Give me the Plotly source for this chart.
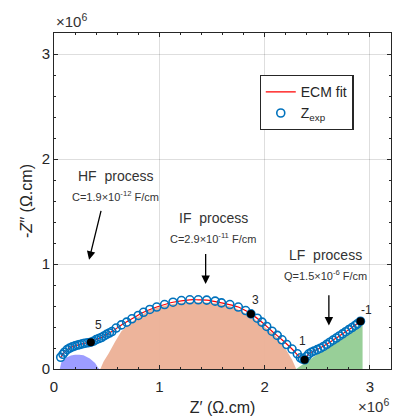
import plotly.graph_objects as go

# ---------------- data ----------------
exp_x = [0.064, 0.085, 0.10, 0.125, 0.15, 0.175, 0.20, 0.225, 0.245, 0.27, 0.29, 0.32, 0.35,
         0.375, 0.40, 0.425, 0.45, 0.475, 0.50, 0.525, 0.55, 0.59, 0.64, 0.69, 0.74, 0.80,
         0.85, 0.91, 0.975, 1.05, 1.13, 1.21, 1.29, 1.37, 1.45, 1.53, 1.59, 1.67, 1.75,
         1.82, 1.87, 1.93, 1.975, 2.02, 2.07, 2.12, 2.165, 2.21, 2.26, 2.31, 2.34, 2.36,
         2.38, 2.40, 2.42, 2.445, 2.47, 2.50, 2.53, 2.56, 2.59, 2.62, 2.65, 2.68, 2.71,
         2.74, 2.77, 2.80, 2.83, 2.86, 2.88, 2.91]
exp_y = [0.112, 0.14, 0.16, 0.185, 0.20, 0.212, 0.22, 0.228, 0.233, 0.24, 0.245, 0.25, 0.255,
         0.265, 0.28, 0.29, 0.30, 0.315, 0.33, 0.343, 0.357, 0.39, 0.42, 0.446, 0.478, 0.51,
         0.54, 0.567, 0.59, 0.614, 0.636, 0.652, 0.659, 0.659, 0.656, 0.646, 0.63, 0.614, 0.59,
         0.557, 0.525, 0.484, 0.446, 0.405, 0.36, 0.32, 0.278, 0.233, 0.19, 0.145, 0.107, 0.095,
         0.088, 0.12, 0.145, 0.16, 0.172, 0.185, 0.198, 0.215, 0.235, 0.255, 0.275, 0.295, 0.315,
         0.335, 0.355, 0.375, 0.395, 0.415, 0.43, 0.455]

fit_x = [0.064, 0.10, 0.15, 0.20, 0.25, 0.30, 0.35, 0.40, 0.45, 0.50, 0.55, 0.64, 0.74, 0.85,
         0.975, 1.13, 1.29, 1.37, 1.45, 1.59, 1.75, 1.87, 1.975, 2.07, 2.165, 2.26, 2.34,
         2.38, 2.42, 2.50, 2.60, 2.70, 2.80, 2.91]
fit_y = [0.112, 0.16, 0.20, 0.22, 0.234, 0.246, 0.255, 0.28, 0.30, 0.33, 0.357, 0.42, 0.478,
         0.54, 0.59, 0.636, 0.659, 0.659, 0.656, 0.63, 0.59, 0.525, 0.446, 0.36, 0.278, 0.19,
         0.107, 0.088, 0.145, 0.185, 0.242, 0.308, 0.375, 0.455]

# process areas (outlines)
hf_x = [0.055, 0.07, 0.12, 0.16, 0.20, 0.24, 0.28, 0.34, 0.39, 0.42, 0.43]
hf_y = [0.0, 0.065, 0.11, 0.128, 0.135, 0.135, 0.13, 0.10, 0.056, 0.01, 0.0]

if_x = [0.44, 0.47, 0.52, 0.58, 0.64, 0.72, 0.79, 0.91, 1.0, 1.1, 1.2, 1.3, 1.4, 1.5,
        1.6, 1.7, 1.8, 1.9, 2.0, 2.1, 2.2, 2.26, 2.30]
if_y = [0.0, 0.07, 0.15, 0.26, 0.36, 0.43, 0.49, 0.56, 0.59, 0.615, 0.63, 0.635, 0.635, 0.63,
        0.615, 0.59, 0.54, 0.48, 0.40, 0.32, 0.19, 0.09, 0.0]

lf_x = [2.30, 2.93, 2.93]
lf_y = [0.0, 0.44, 0.0]

hl_x = [0.35, 1.87, 2.38, 2.91]
hl_y = [0.255, 0.525, 0.088, 0.455]
hl_labels = ["5", "3", "1", "-1"]

x_ticks = [0, 1, 2, 3]
y_ticks = [0, 1, 2, 3]

# ---------------- figure ----------------
FONT = "Liberation Sans, Arial, sans-serif"
TXT = "#262626"

fig = go.Figure()

fig.add_trace(go.Scatter(x=hf_x, y=hf_y, fill="toself", mode="none",
                         fillcolor="rgba(140,140,255,0.85)", showlegend=False, hoverinfo="skip"))
fig.add_trace(go.Scatter(x=if_x, y=if_y, fill="toself", mode="none",
                         fillcolor="rgba(236,176,150,0.95)", showlegend=False, hoverinfo="skip"))
fig.add_trace(go.Scatter(x=lf_x, y=lf_y, fill="toself", mode="none",
                         fillcolor="rgba(146,204,146,0.95)", showlegend=False, hoverinfo="skip"))

fig.add_trace(go.Scatter(x=fit_x, y=fit_y, mode="lines", name="ECM fit",
                         line=dict(color="red", width=1.2, shape="spline")))
fig.add_trace(go.Scatter(x=exp_x, y=exp_y, mode="markers", name="Z<sub>exp</sub>",
                         marker=dict(symbol="circle-open", size=8, color="#0072BD",
                                     line=dict(width=1.6, color="#0072BD"))))
fig.add_trace(go.Scatter(x=hl_x, y=hl_y, mode="markers", showlegend=False,
                         marker=dict(size=8, color="black")))

label_shift = [(8, 17), (5, 14), (-2, 19), (6, 11)]
annotations = []
for xv, yv, lab, (dx, dy) in zip(hl_x, hl_y, hl_labels, label_shift):
    annotations.append(dict(x=xv, y=yv, text=lab, showarrow=False, xshift=dx, yshift=dy,
                            font=dict(family=FONT, size=12, color=TXT)))

gray = "#333333"
for tx, ty, title, sub in [(0.58, 1.835, "HF  process", "C=1.9×10<sup>-12</sup> F/cm"),
                           (1.51, 1.44, "IF  process", "C=2.9×10<sup>-11</sup> F/cm"),
                           (2.58, 1.087, "LF  process", "Q=1.5×10<sup>-6</sup> F/cm")]:
    annotations.append(dict(x=tx, y=ty, text=title, showarrow=False,
                            font=dict(family=FONT, size=14, color=gray)))
    annotations.append(dict(x=tx, y=ty - 0.19, text=sub, showarrow=False,
                            font=dict(family=FONT, size=11, color=gray)))

for (x0, y0, x1, y1) in [(0.45, 1.52, 0.333, 1.04), (1.44, 1.11, 1.44, 0.81),
                         (2.61, 0.716, 2.61, 0.414)]:
    annotations.append(dict(x=x1, y=y1, ax=x0, ay=y0, xref="x", yref="y", axref="x", ayref="y",
                            text="", showarrow=True, arrowhead=2, arrowsize=1.3,
                            arrowwidth=1.3, arrowcolor="black"))

annotations.append(dict(xref="paper", yref="paper", x=0.0, y=1.0, xanchor="left", yanchor="bottom",
                        text="×10<sup>6</sup>", showarrow=False, yshift=1,
                        font=dict(family=FONT, size=15, color=gray)))
annotations.append(dict(xref="paper", yref="paper", x=1.0, y=0.0, xanchor="right", yanchor="top",
                        text="×10<sup>6</sup>", showarrow=False, yshift=-25,
                        font=dict(family=FONT, size=15, color=gray)))

axis_common = dict(range=[0, 3.2], showline=True, linecolor=TXT, linewidth=1, mirror="allticks",
                   ticks="inside", ticklen=4, tickcolor=TXT, showgrid=True,
                   gridcolor="rgba(0,0,0,0.13)", gridwidth=1, zeroline=False, automargin=False,
                   tickfont=dict(family=FONT, size=15, color=TXT),
                   minor=dict(dtick=0.2, ticks="inside", ticklen=2, tickcolor=TXT, showgrid=False))

# the page body adds an 8px offset; the figure is sized so the plot box lands at 54..391 x 33..369
fig.update_layout(
    width=392, height=409,
    margin=dict(l=46, r=9, t=25, b=48),
    paper_bgcolor="white", plot_bgcolor="white",
    font=dict(family=FONT, color=TXT),
    xaxis=dict(**axis_common, tickvals=x_ticks, ticklabelstandoff=4,
               title=dict(text="Z′ (Ω.cm)", font=dict(family=FONT, size=16, color=TXT), standoff=7)),
    yaxis=dict(**axis_common, tickvals=y_ticks,
               title=dict(text="-<i>Z</i>′′ (Ω.cm)", font=dict(family=FONT, size=16, color=TXT), standoff=5)),
    legend=dict(x=0.61, y=0.875, xanchor="left", yanchor="top", bgcolor="white",
                bordercolor=TXT, borderwidth=1.2, font=dict(family=FONT, size=14, color=TXT),
                tracegroupgap=0, itemwidth=30),
    annotations=annotations,
    showlegend=True,
)

fig.write_html("out.html")
